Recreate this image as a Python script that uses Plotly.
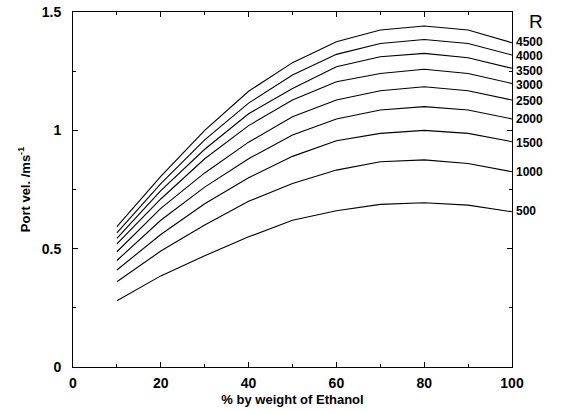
import plotly.graph_objects as go

ethanol = [10, 20, 30, 40, 50, 60, 70, 80, 90, 100]
r_values = ["500", "1000", "1500", "2000", "2500", "3000", "3500", "4000", "4500"]
v500 = [0.28, 0.385, 0.47, 0.55, 0.62, 0.66, 0.687, 0.694, 0.684, 0.656]
v1000 = [0.36, 0.49, 0.60, 0.70, 0.775, 0.832, 0.867, 0.875, 0.86, 0.825]
v1500 = [0.41, 0.56, 0.69, 0.80, 0.89, 0.956, 0.987, 1.0, 0.987, 0.952]
v2000 = [0.45, 0.62, 0.76, 0.88, 0.98, 1.048, 1.086, 1.10, 1.086, 1.048]
v2500 = [0.487, 0.67, 0.82, 0.95, 1.057, 1.128, 1.167, 1.184, 1.167, 1.128]
v3000 = [0.52, 0.71, 0.88, 1.02, 1.128, 1.205, 1.24, 1.258, 1.24, 1.198]
v3500 = [0.543, 0.745, 0.92, 1.07, 1.177, 1.269, 1.311, 1.325, 1.307, 1.262]
v4000 = [0.567, 0.775, 0.96, 1.115, 1.234, 1.321, 1.367, 1.384, 1.367, 1.318]
v4500 = [0.593, 0.805, 1.0, 1.165, 1.286, 1.374, 1.424, 1.441, 1.424, 1.37]
series = [v500, v1000, v1500, v2000, v2500, v3000, v3500, v4000, v4500]

# label placement (layout, not data)
label_y = [0.659, 0.824, 0.946, 1.048, 1.124, 1.191, 1.252, 1.312, 1.374]

FONT = "Liberation Sans, Arial, sans-serif"

fig = go.Figure()
for name, ys in zip(r_values, series):
    fig.add_trace(go.Scatter(x=ethanol, y=ys, mode="lines", name=name,
                             line=dict(color="black", width=1.1), showlegend=False))

for name, ly in zip(r_values, label_y):
    fig.add_annotation(x=1.005, xref="paper", y=ly, yref="y", text="<b>" + name + "</b>",
                       showarrow=False, xanchor="left", yanchor="middle",
                       font=dict(family=FONT, size=12, color="black"))
fig.add_annotation(x=1.035, xref="paper", y=1.458, yref="y", text="R",
                   showarrow=False, xanchor="left", yanchor="middle",
                   font=dict(family=FONT, size=19, color="black"))

axis_common = dict(showgrid=False, zeroline=False, showline=True, linecolor="black",
                   linewidth=1, mirror="ticks", ticks="inside", ticklen=5,
                   tickcolor="black", tickwidth=1, automargin=False,
                   tickfont=dict(family=FONT, size=14, color="black"))

fig.update_xaxes(range=[0, 100], tickvals=[0, 20, 40, 60, 80, 100],
                 ticktext=["<b>%d</b>" % v for v in [0, 20, 40, 60, 80, 100]],
                 minor=dict(ticks="inside", ticklen=3, tickcolor="black", dtick=10, showgrid=False),
                 ticklabelstandoff=3,
                 title=dict(text="<b>% by weight of Ethanol</b>", standoff=5,
                            font=dict(family=FONT, size=13, color="black")),
                 **axis_common)
fig.update_yaxes(range=[0, 1.5], tickvals=[0, 0.5, 1, 1.5],
                 ticktext=["<b>0</b>", "<b>0.5</b>", "<b>1</b>", "<b>1.5</b>"],
                 minor=dict(ticks="inside", ticklen=3, tickcolor="black", dtick=0.25, showgrid=False),
                 ticklabelstandoff=8,
                 title=dict(text="<b>Port vel. /ms<sup>-1</sup></b>", standoff=8,
                            font=dict(family=FONT, size=13, color="black")),
                 **axis_common)

fig.update_layout(width=563, height=413, plot_bgcolor="white", paper_bgcolor="white",
                  margin=dict(l=73, r=51, t=12, b=46))

fig.write_html("out.html")
